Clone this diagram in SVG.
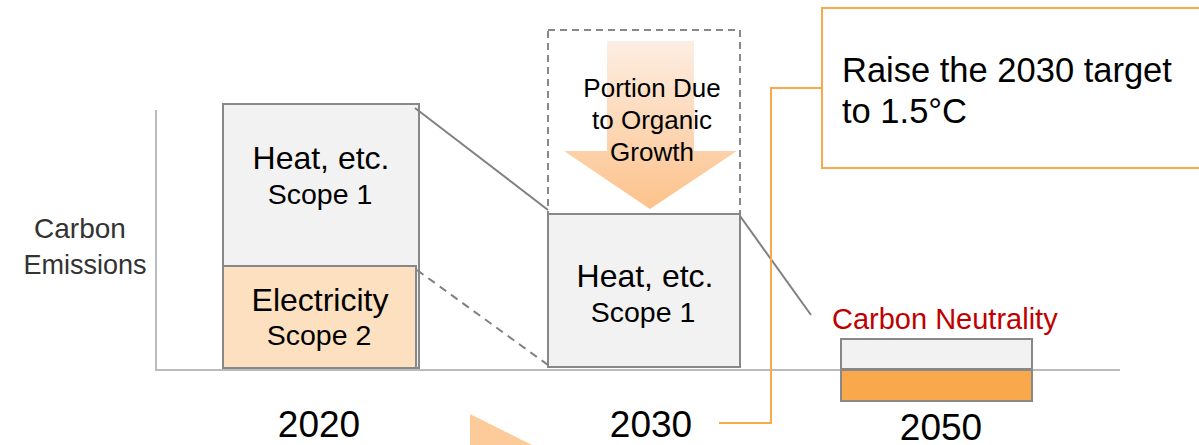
<svg xmlns="http://www.w3.org/2000/svg" width="1199" height="445" viewBox="0 0 1199 445">
<style>
text{font-family:"Liberation Sans",Arial,sans-serif;fill:#000}
.box{stroke:#888;stroke-width:2}
.grey{fill:#f2f2f2}
.l1{font-size:32px;text-anchor:middle}
.l2{font-size:28.5px;text-anchor:middle}
.org{font-size:26px;text-anchor:middle}
.yr{font-size:37px;text-anchor:middle}
.ln{stroke:#808080;stroke-width:2;fill:none}
</style>
<defs>
<linearGradient id="g" x1="0" y1="0" x2="0" y2="1">
<stop offset="0" stop-color="#fdeee3"/>
<stop offset="1" stop-color="#fcc28b"/>
</linearGradient>
</defs>
<g id="axes">
<line x1="156" y1="110" x2="156" y2="371" stroke="#bbb" stroke-width="2"/>
<line x1="156" y1="370" x2="1120" y2="370" stroke="#bbb" stroke-width="2"/>
</g>
<g id="ylabel">
<text x="80" y="238" font-size="28" text-anchor="middle" style="fill:#333">Carbon</text>
<text x="85" y="274" font-size="27" text-anchor="middle" style="fill:#333">Emissions</text>
</g>
<g id="bar2020-scope1">
<rect class="box grey" x="223" y="104" width="196" height="264"/>
<text class="l1" x="321" y="169">Heat, etc.</text>
<text class="l2" x="320" y="204">Scope 1</text>
</g>
<g id="bar2020-scope2">
<rect class="box" fill="#fce0c0" x="223" y="266" width="193" height="102"/>
<text class="l1" x="320" y="311">Electricity</text>
<text class="l2" x="319" y="345">Scope 2</text>
</g>
<g id="organic">
<rect x="548" y="30" width="192" height="184" fill="none" stroke="#888" stroke-width="2" stroke-dasharray="7,5"/>
<polygon points="607,41 694,41 694,151 737,151 650,209 564,151 607,151" fill="url(#g)"/>
<text class="org" x="652" y="97">Portion Due</text>
<text class="org" x="652" y="129">to Organic</text>
<text class="org" x="652" y="161">Growth</text>
</g>
<g id="bar2030">
<rect class="box grey" x="548" y="214" width="192" height="153"/>
<text class="l1" x="645" y="287">Heat, etc.</text>
<text class="l2" x="643" y="322">Scope 1</text>
</g>
<g id="bar2050">
<text x="832" y="329" font-size="29" style="fill:#c00000">Carbon Neutrality</text>
<rect class="box grey" x="841" y="339" width="191" height="30"/>
<rect class="box" fill="#f9a94b" x="841" y="370" width="191" height="31"/>
</g>
<g id="callout">
<rect x="822" y="8" width="390" height="160" fill="#fff" stroke="#f9a94b" stroke-width="2"/>
<text x="842" y="82" font-size="34.5">Raise the 2030 target</text>
<text x="842" y="123" font-size="34.5">to 1.5°C</text>
</g>
<g id="connectors">
<line class="ln" x1="415" y1="108" x2="548" y2="210"/>
<line class="ln" x1="417" y1="270" x2="548" y2="365" stroke-dasharray="8,6"/>
<line class="ln" x1="740" y1="216" x2="811" y2="315"/>
<polyline points="822,88 771,88 771,423 719,423" fill="none" stroke="#f9a94b" stroke-width="2"/>
</g>
<g id="years">
<text class="yr" x="319" y="437">2020</text>
<text class="yr" x="651" y="437">2030</text>
<text class="yr" x="941" y="440">2050</text>
</g>
<polygon id="bottom-arrow" points="470,414 532,445 470,445" fill="#fdcb9a"/>
</svg>
